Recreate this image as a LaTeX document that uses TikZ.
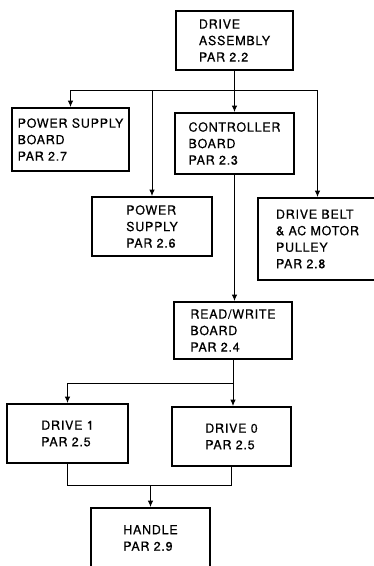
\documentclass[tikz,border=0pt]{standalone}
\usepackage{fontspec}
\newfontfamily\boxfont{TeX Gyre Heros}[LetterSpace=6,FakeBold=0.5]
\usetikzlibrary{arrows.meta,calc,positioning}

\begin{document}
\begin{tikzpicture}[
  x=1pt, y=-1pt,
  box/.style={
    draw,
    line width=1.8pt,
    inner sep=0pt,
    align=left,
    minimum width=119pt,
    minimum height=59pt,
    font=\boxfont\fontsize{12.5}{16.5}\selectfont
  },
  edge/.style={line width=1pt},
  arr/.style={edge, -{Latex[length=6.5pt,width=5.5pt]}}
]

\useasboundingbox (0,0) rectangle (374,566);
\clip (0,0) rectangle (374,566);

\node[box, minimum width=117pt] (asm) at (234.5,40.5) {DRIVE\\ASSEMBLY\\PAR 2.2};

\node[box, minimum width=117pt, minimum height=63pt] (psb) at (70.5,139.5)
{POWER SUPPLY\\BOARD\\PAR 2.7};

\node[box, minimum height=61pt] (ctrl) at (234.5,143.5)
{CONTROLLER\\BOARD\\PAR 2.3};

\node[box, minimum width=120pt] (psu) at (152,226.5)
{POWER\\SUPPLY\\PAR 2.6};

\node[box, minimum height=82pt] (belt) at (317.5,239)
{DRIVE BELT\\\& AC MOTOR\\PULLEY\\PAR 2.8};

\node[box, minimum width=118pt, minimum height=57pt] (rw) at (233,330.5)
{READ/WRITE\\BOARD\\PAR 2.4};

\node[box, minimum width=121pt] (drv1) at (67.5,433.5) {DRIVE 1\\PAR 2.5};
\node[box] (drv0) at (231.5,436.5) {DRIVE 0\\PAR 2.5};

\node[box, minimum height=60pt] (hdl) at (150.5,538) {HANDLE\\PAR 2.9};

% tree lines
\coordinate (bus) at (0,90);
\coordinate (split) at (0,383);
\coordinate (merge) at (0,485);

\draw[arr] (asm) -- (ctrl);
\draw[edge] (bus -| psb) -- (bus -| belt);
\draw[arr] (bus -| psb) -- (psb);
\draw[arr] (bus -| psu) -- (psu);
\draw[arr] (bus -| belt) -- (belt);

\draw[arr] (ctrl) -- (ctrl |- rw.north);

\draw[edge] (rw.south) -- (rw.south |- split);
\draw[edge] (split -| drv1) -- (split -| rw.south);
\draw[arr] (split -| drv1) -- (drv1);
\draw[arr] (split -| rw.south) -- (rw.south |- drv0.north);

\draw[edge] (drv1) -- (drv1 |- merge) -- (drv0 |- merge) -- (drv0);
\draw[arr] (merge -| hdl) -- (hdl);

\end{tikzpicture}
\end{document}
